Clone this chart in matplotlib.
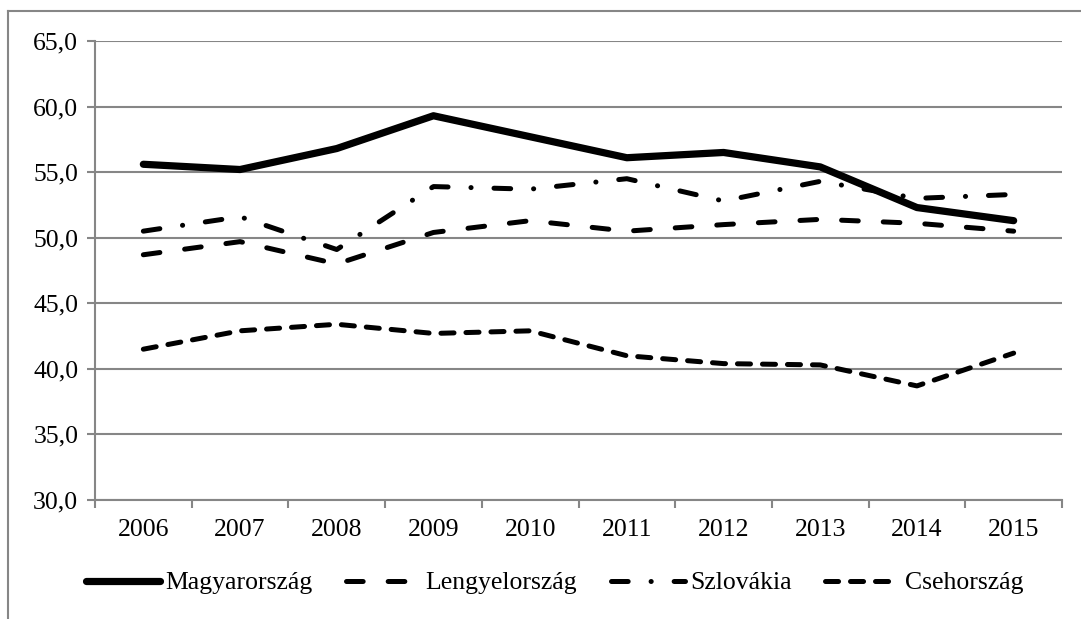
import matplotlib.pyplot as plt
import matplotlib.lines as mlines
import numpy as np

plt.rcParams['font.family'] = ['Liberation Serif', 'DejaVu Serif']
plt.rcParams['lines.scale_dashes'] = False

years = ['2006', '2007', '2008', '2009', '2010', '2011', '2012', '2013', '2014', '2015']
magyar = [55.6, 55.2, 56.8, 59.3, 57.7, 56.1, 56.5, 55.4, 52.3, 51.3]
lengyel = [48.7, 49.7, 48.0, 50.4, 51.3, 50.5, 51.0, 51.4, 51.1, 50.5]
szlovak = [50.5, 51.6, 49.1, 53.9, 53.7, 54.5, 52.8, 54.3, 53.0, 53.3]
cseh = [41.5, 42.9, 43.4, 42.7, 42.9, 41.0, 40.4, 40.3, 38.7, 41.2]

fig = plt.figure(figsize=(10.81, 6.19), dpi=100)
ax = fig.add_axes([95 / 1081, 1 - 500 / 619, (1062 - 95) / 1081, (500 - 41) / 619])

grid_col = '#868686'
x = np.arange(len(years))

ax.plot(x, magyar, color='black', lw=5.2, solid_capstyle='round', solid_joinstyle='round',
        label='Magyarország', zorder=5)
ax.plot(x, lengyel, color='black', lw=3.6, dashes=(12, 18), dash_capstyle='round',
        label='Lengyelország', zorder=4)
ax.plot(x, szlovak, color='black', lw=3.6, dashes=(12, 16.5, 0.1, 16.5), dash_capstyle='round',
        label='Szlovákia', zorder=4)
ax.plot(x, cseh, color='black', lw=3.6, dashes=(9.4, 8.6), dash_capstyle='round',
        label='Csehország', zorder=4)

ax.set_xlim(-0.5, 9.5)
ax.set_ylim(30, 65)
ax.set_yticks(np.arange(30, 65.1, 5))
ax.set_yticklabels([f'{v:.1f}'.replace('.', ',') for v in np.arange(30, 65.1, 5)])
ax.set_xticks(x)
ax.set_xticklabels(years)
ax.set_xticks(np.arange(-0.5, 9.6, 1), minor=True)
ax.tick_params(axis='x', which='major', length=0, pad=14, labelsize=18.5)
ax.tick_params(axis='x', which='minor', length=6, width=1.5, color=grid_col, direction='out')
ax.tick_params(axis='y', length=6, width=1.5, color=grid_col, direction='out', pad=6, labelsize=18.5)

ax.yaxis.grid(True, color=grid_col, lw=1.5)
ax.set_axisbelow(True)
for s in ['top', 'right']:
    ax.spines[s].set_visible(False)
for s in ['left', 'bottom']:
    ax.spines[s].set_color(grid_col)
    ax.spines[s].set_linewidth(1.5)

leg = fig.legend(loc='center', bbox_to_anchor=(0.513, 1 - 583 / 619), ncol=4, frameon=False,
                 fontsize=18.5, handlelength=2.9, handletextpad=0.2, columnspacing=1.3)

# outer chart frame (cropped at right and bottom)
fig.add_artist(mlines.Line2D([8 / 1081, 1], [1 - 11 / 619, 1 - 11 / 619], color=grid_col, lw=1.5,
                             transform=fig.transFigure))
fig.add_artist(mlines.Line2D([8 / 1081, 8 / 1081], [0, 1 - 11 / 619], color=grid_col, lw=1.5,
                             transform=fig.transFigure))

fig.savefig('out.png', dpi=100)
